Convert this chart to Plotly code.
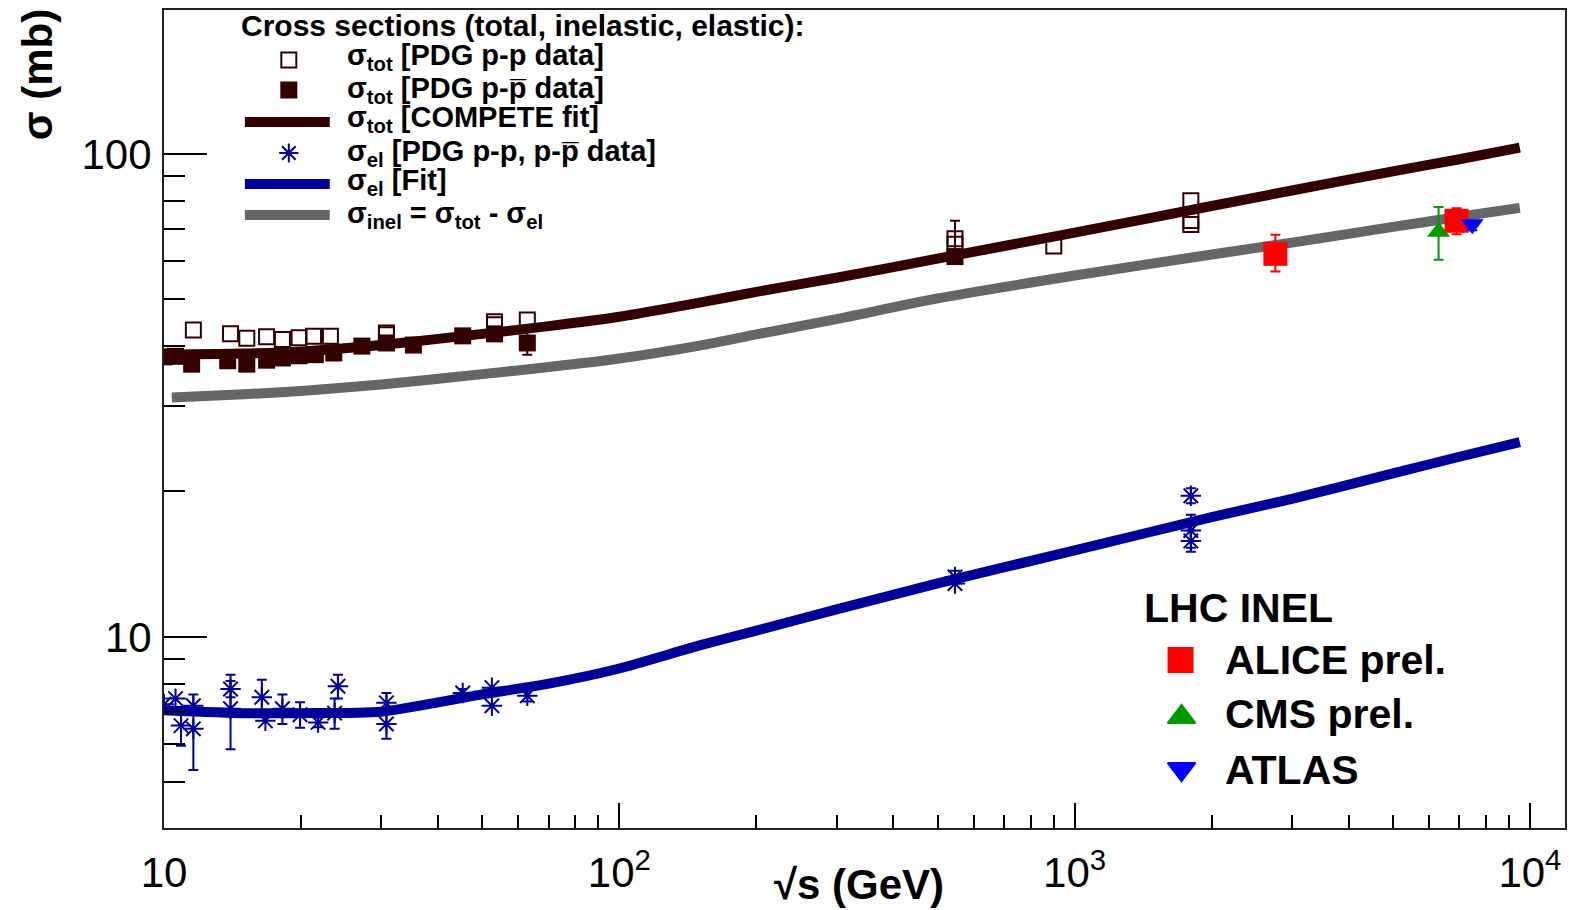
import plotly.graph_objects as go
import numpy as np

# ---------------- data ----------------
# fits (sqrt(s) in GeV, sigma in mb)
fit_s = [10, 15, 20, 30, 50, 70, 100, 150, 200, 300, 500, 1000, 2000, 3000, 5000, 7000, 9500]
fit_tot = [38.4, 38.6, 39.0, 40.2, 42.4, 44.0, 46.0, 49.2, 51.8, 55.4, 60.7, 68.7, 78.0, 84.0, 92.0, 97.5, 103.0]
fit_el = [7.05, 6.95, 6.95, 7.0, 7.6, 8.0, 8.6, 9.6, 10.3, 11.4, 12.9, 15.1, 17.7, 19.3, 21.8, 23.6, 25.3]
inel_s = [10.4, 15, 20, 30, 50, 70, 100, 150, 200, 300, 500, 1000, 2000, 3000, 5000, 7000, 9500]
fit_inel = [31.3, 31.8, 32.3, 33.3, 35.0, 36.2, 37.7, 40.1, 42.3, 45.5, 50.2, 56.0, 61.9, 65.5, 70.6, 74.1, 77.3]

# sigma_tot p-p (open squares); None = no visible error bar
pp_s = [11.6, 14.0, 15.2, 16.8, 18.2, 19.8, 21.3, 23.2, 30.8, 30.8, 53.2, 53.2, 62.8, 546, 546, 900, 1800, 1800, 1800]
pp_v = [43.2, 42.4, 41.5, 41.8, 41.3, 41.6, 41.9, 41.9, 42.6, 42.2, 44.9, 44.3, 45.3, 66.7, 65.0, 64.5, 80.0, 72.8, 71.4]
pp_e = [None, None, None, None, None, None, None, None, None, None, None, None, None, 6.0, None, None, None, None, None]

# sigma_tot p-pbar (filled squares)
ppb_s = [10.0, 10.6, 11.5, 13.8, 15.2, 16.8, 18.2, 19.8, 21.5, 23.6, 27.2, 30.8, 35.3, 45.3, 53.2, 62.8, 546]
ppb_v = [38.0, 38.1, 36.7, 37.3, 36.7, 37.4, 37.8, 38.2, 38.4, 38.7, 40.0, 40.6, 40.2, 42.0, 42.4, 40.6, 61.3]
ppb_e = [None, None, None, None, None, None, None, None, None, None, None, None, None, None, None, 2.2, None]

# sigma_el p-p, p-pbar (asterisks)
el_s = [10.0, 10.6, 10.9, 11.6, 11.6, 14.0, 14.0, 16.4, 16.7, 18.2, 19.9, 21.8, 23.7, 24.1, 30.8, 30.8, 45.3, 52.5, 52.5, 62.8, 546, 546, 1800, 1800, 1800]
el_v = [7.25, 7.45, 6.55, 7.2, 6.45, 7.8, 7.1, 7.5, 6.7, 7.1, 6.9, 6.65, 6.95, 7.9, 7.3, 6.6, 7.65, 7.85, 7.2, 7.55, 13.3, 12.9, 19.6, 16.6, 15.8]
el_e = [None, None, 0.6, None, 1.15, 0.3, 1.25, 0.65, None, 0.5, 0.42, 0.15, 0.5, 0.45, 0.35, 0.45, 0.15, None, None, 0.2, 0.4, None, 0.7, 1.3, 0.8]

# LHC inelastic
alice_s = [2760, 6900]
alice_v = [62.1, 72.7]
alice_up = [5.9, 4.5]
alice_dn = [5.0, 4.5]
cms_s = [6300]
cms_v = [69.0]
cms_e = [8.6]
atlas_s = [7470]
atlas_v = [71.5]
atlas_up = [0.8]
atlas_dn = [2.0]

# tick labels
x_tickvals = [10, 100, 1000, 10000]
x_ticktext = ["10", "10<sup>2</sup>", "10<sup>3</sup>", "10<sup>4</sup>"]
y_tickvals = [10, 100]
y_ticktext = ["10", "100"]

# ---------------- style ----------------
MAROON = "#330000"
GRAY = "#666666"
DBLUE = "#000099"
FONT = "Liberation Sans, Arial, Helvetica, sans-serif"

W, H = 1569, 910
L, R, T, B = 164, 2, 10, 82
PW, PH = W - L - R, H - T - B


def fx(px):
    return (px - L) / PW


def fy(py):
    return (H - B - py) / PH


fig = go.Figure()

# fits
for xs, ys, col in [(inel_s, fit_inel, GRAY), (fit_s, fit_tot, MAROON), (fit_s, fit_el, DBLUE)]:
    fig.add_trace(go.Scatter(x=xs, y=ys, mode="lines", line=dict(color=col, width=10, shape="spline", smoothing=0.6),
                             showlegend=False))

eb = dict(thickness=2, width=5)


def add_points(xs, ys, es, marker, color):
    idx = [i for i, e in enumerate(es) if e is not None]
    if idx:
        fig.add_trace(go.Scatter(x=[xs[i] for i in idx], y=[ys[i] for i in idx], mode="markers",
                                 marker=dict(size=1, opacity=0, color=color),
                                 error_y=dict(type="data", array=[es[i] for i in idx], color=color, **eb),
                                 showlegend=False, hoverinfo="skip"))
    fig.add_trace(go.Scatter(x=xs, y=ys, mode="markers", marker=marker, showlegend=False))


add_points(pp_s, pp_v, pp_e, dict(symbol="square-open", size=15, color=MAROON, line=dict(width=2, color=MAROON)), MAROON)
add_points(ppb_s, ppb_v, ppb_e, dict(symbol="square", size=17, color=MAROON), MAROON)
add_points(el_s, el_v, el_e, dict(symbol="asterisk-open", size=17, color=DBLUE, line=dict(width=2, color=DBLUE)), DBLUE)

fig.add_trace(go.Scatter(x=cms_s, y=cms_v, mode="markers",
                         marker=dict(symbol="triangle-up", size=20, color="#009900"),
                         error_y=dict(type="data", array=cms_e, color="#009900", **eb), showlegend=False))
fig.add_trace(go.Scatter(x=alice_s, y=alice_v, mode="markers",
                         marker=dict(symbol="square", size=24, color="#ff0000"),
                         error_y=dict(type="data", array=alice_up, arrayminus=alice_dn, symmetric=False, color="#ff0000", **eb),
                         showlegend=False))
fig.add_trace(go.Scatter(x=atlas_s, y=atlas_v, mode="markers",
                         marker=dict(symbol="triangle-down", size=20, color="#0000ff"),
                         error_y=dict(type="data", array=atlas_up, arrayminus=atlas_dn, symmetric=False, color="#0000ff", **eb),
                         showlegend=False))

# ---------------- legend samples on overlay axis ----------------
leg_marks = [
    (fx(289), fy(60), "square-open", 15, MAROON),
    (fx(289), fy(90), "square", 15, MAROON),
    (fx(289), fy(153), "asterisk-open", 16, DBLUE),
    (fx(1182), fy(660), "square", 24, "#ff0000"),
    (fx(1183), fy(717), "triangle-up", 24, "#009900"),
    (fx(1183), fy(769), "triangle-down", 24, "#0000ff"),
]
for xx, yy, sym, sz, col in leg_marks:
    fig.add_trace(go.Scatter(x=[xx], y=[yy], xaxis="x2", yaxis="y2", mode="markers",
                             marker=dict(symbol=sym, size=sz, color=col, line=dict(width=2, color=col)),
                             showlegend=False, hoverinfo="skip"))

shapes = []
for yy, col in [(122, MAROON), (184, DBLUE), (215, GRAY)]:
    shapes.append(dict(type="line", xref="paper", yref="paper", x0=fx(245), x1=fx(330), y0=fy(yy), y1=fy(yy),
                       line=dict(color=col, width=10)))

annots = []
lf = dict(family=FONT, size=29, color="black")
annots.append(dict(text="<b>Cross sections (total, inelastic, elastic):</b>", x=fx(239), y=fy(26),
                   xref="paper", yref="paper", xanchor="left", yanchor="middle", showarrow=False,
                   font=dict(family=FONT, size=30, color="black")))
leg_texts = [
    (57, "<b>σ<sub>tot</sub> [PDG p-p data]</b>"),
    (90, "<b>σ<sub>tot</sub> [PDG p-p\u0305 data]</b>"),
    (119, "<b>σ<sub>tot</sub> [COMPETE fit]</b>"),
    (153, "<b>σ<sub>el</sub> [PDG p-p, p-p\u0305 data]</b>"),
    (182, "<b>σ<sub>el</sub> [Fit]</b>"),
    (215, "<b>σ<sub>inel</sub> = σ<sub>tot</sub> - σ<sub>el</sub></b>"),
]
for yy, t in leg_texts:
    annots.append(dict(text=t, x=fx(345), y=fy(yy), xref="paper", yref="paper", xanchor="left",
                       yanchor="middle", showarrow=False, font=lf))

lhc = dict(family=FONT, size=41, color="black")
annots.append(dict(text="<b>LHC INEL</b>", x=fx(1143), y=fy(608), xref="paper", yref="paper",
                   xanchor="left", yanchor="middle", showarrow=False, font=lhc))
for yy, t in [(660, "ALICE prel."), (714, "CMS prel."), (770, "ATLAS")]:
    annots.append(dict(text="<b>" + t + "</b>", x=fx(1225), y=fy(yy), xref="paper", yref="paper",
                       xanchor="left", yanchor="middle", showarrow=False, font=lhc))

# axis titles
annots.append(dict(text="<b>σ (mb)</b>", x=fx(38), y=fy(75), xref="paper", yref="paper", textangle=-90,
                   xanchor="center", yanchor="middle", showarrow=False, font=dict(family=FONT, size=42, color="black")))
annots.append(dict(text="<b>√s (GeV)</b>", x=fx(860), y=fy(884), xref="paper", yref="paper",
                   xanchor="center", yanchor="middle", showarrow=False, font=dict(family=FONT, size=42, color="black")))

x_minor = [k * 10 ** d for d in range(1, 4) for k in range(2, 10)]
y_minor = [k * 10 ** d for d in range(0, 3) for k in range(2, 10) if 4 <= k * 10 ** d <= 198]

fig.update_layout(
    width=W, height=H,
    margin=dict(l=L, r=R, t=T, b=B, pad=0),
    paper_bgcolor="white", plot_bgcolor="white",
    font=dict(family=FONT, color="black"),
    showlegend=False,
    xaxis=dict(type="log", range=[1, np.log10(11940)], showgrid=False, zeroline=False,
               showline=True, mirror=True, linecolor="#222222", linewidth=2,
               ticks="inside", ticklen=25, tickwidth=1.5, tickcolor="black",
               tickvals=x_tickvals, ticktext=x_ticktext, tickfont=dict(size=42, family=FONT),
               ticklabelstandoff=7,
               minor=dict(tickvals=x_minor, ticks="inside", ticklen=13, tickwidth=1.5, tickcolor="black", showgrid=False)),
    yaxis=dict(type="log", range=[np.log10(4.02), np.log10(198.6)], showgrid=False, zeroline=False,
               showline=True, mirror=True, linecolor="#222222", linewidth=2,
               ticks="inside", ticklen=43, tickwidth=1.5, tickcolor="black",
               tickvals=y_tickvals, ticktext=y_ticktext, tickfont=dict(size=42, family=FONT),
               ticklabelstandoff=2,
               minor=dict(tickvals=y_minor, ticks="inside", ticklen=21, tickwidth=1.5, tickcolor="black", showgrid=False)),
    xaxis2=dict(overlaying="x", range=[0, 1], visible=False, anchor="y2"),
    yaxis2=dict(overlaying="y", range=[0, 1], visible=False, anchor="x2"),
    shapes=shapes,
    annotations=annots,
)

fig.write_html("out.html")
